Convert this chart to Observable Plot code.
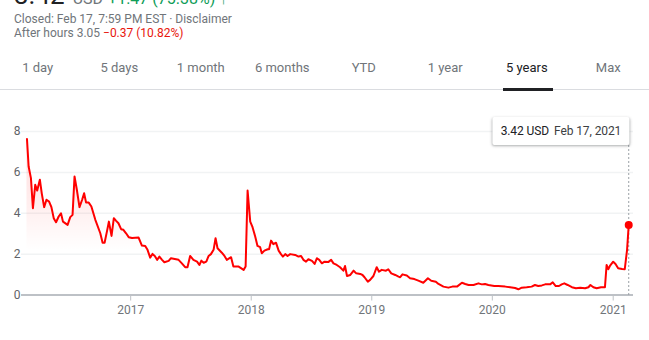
<!DOCTYPE html>
<html><head><meta charset="utf-8">
<script src="https://cdn.jsdelivr.net/npm/d3@7"></script>
<script src="https://cdn.jsdelivr.net/npm/@observablehq/plot@0.6"></script>
<style>
html,body{margin:0;padding:0;background:#fff;}
body{width:649px;height:340px;overflow:hidden;position:relative;font-family:Roboto,"Noto Sans",sans-serif;}
#header{position:relative;height:96px;}
.abs{position:absolute;white-space:nowrap;}
#price{left:14px;top:-20px;line-height:30px;font-size:26px;color:#202124;}
#price .cur{font-size:16px;color:#70757a;margin-left:8px;}
#price .chg{font-size:16px;color:#0f9d58;margin-left:5px;}
#closed{left:14px;top:11px;line-height:16px;font-size:12px;color:#70757a;}
#after{left:14px;top:25px;line-height:16px;font-size:12px;color:#70757a;}
#after .neg{color:#e8160c;}
.tab{position:absolute;top:57.5px;width:81.5px;line-height:20px;text-align:center;font-size:13px;color:#70757a;}
.tab.sel{color:#202124;}
#rule{position:absolute;left:0;top:89px;width:649px;height:1px;background:#dadce0;}
#underline{position:absolute;top:88px;height:3px;width:50px;background:#202124;}
#tip{position:absolute;top:117px;height:28px;line-height:28px;padding:0 8px 0 8px;background:#fff;
  box-shadow:0 1px 3px rgba(60,64,67,.3),0 1px 2px rgba(60,64,67,.15);border-radius:2px;font-size:12px;color:#202124;
  transform:translateX(-100%);white-space:nowrap;letter-spacing:-0.1px;}
#tip .d{color:#3c4043;margin-left:5px;}
</style></head>
<body>
<div id="header">
  <div id="price" class="abs">3.42<span class="cur">USD</span><span class="chg">+1.47 (75.38%) ↑</span></div>
  <div id="closed" class="abs">Closed: Feb 17, 7:59 PM EST · Disclaimer</div>
  <div id="after" class="abs">After hours 3.05 <span class="neg">−0.37 (10.82%)</span></div>
  <div id="rule"></div>
</div>
<div id="chart"></div>
<script>
const dates = [
"2016-02-22","2016-02-27","2016-03-05","2016-03-11","2016-03-18","2016-03-24","2016-04-01","2016-04-07","2016-04-14","2016-04-21",
"2016-04-29","2016-05-06","2016-05-13","2016-05-20","2016-05-28","2016-06-04","2016-06-10","2016-06-24","2016-07-02","2016-07-09",
"2016-07-15","2016-07-22","2016-07-30","2016-08-07","2016-08-13","2016-08-19","2016-08-27","2016-09-04","2016-09-16","2016-10-01",
"2016-10-08","2016-10-14","2016-10-21","2016-10-27","2016-11-04","2016-11-11","2016-11-18","2016-11-25","2016-12-03","2016-12-10",
"2016-12-18","2016-12-26",
"2017-01-05","2017-01-25","2017-01-30","2017-02-04","2017-02-14","2017-02-21","2017-03-01","2017-03-08","2017-03-15","2017-03-22",
"2017-03-29","2017-04-06","2017-04-13","2017-04-26","2017-05-03","2017-05-26","2017-06-05","2017-06-15","2017-06-22","2017-06-30",
"2017-07-10","2017-07-21","2017-07-28","2017-08-03","2017-08-10","2017-08-18","2017-08-25","2017-09-01","2017-09-09","2017-09-15",
"2017-09-21","2017-10-04","2017-10-12","2017-10-19","2017-11-01","2017-11-08","2017-11-24","2017-12-09","2017-12-15","2017-12-21",
"2017-12-29",
"2018-01-05","2018-01-13","2018-01-20","2018-01-28","2018-02-02","2018-02-10","2018-02-20","2018-02-24","2018-03-02","2018-03-09",
"2018-03-17","2018-03-25","2018-04-01","2018-04-07","2018-04-14","2018-04-21","2018-04-29","2018-05-14","2018-05-24","2018-06-01",
"2018-06-08","2018-06-16","2018-06-23","2018-07-04","2018-07-12","2018-07-19","2018-07-26","2018-08-03","2018-08-11","2018-08-23",
"2018-08-31","2018-09-07","2018-09-17","2018-09-27","2018-10-07","2018-10-12","2018-10-18","2018-10-28","2018-11-07","2018-11-15",
"2018-11-27","2018-12-04","2018-12-10","2018-12-20","2018-12-27",
"2019-01-06","2019-01-16","2019-01-23","2019-01-31","2019-02-13","2019-02-20","2019-03-01","2019-03-13","2019-03-23","2019-03-28",
"2019-04-04","2019-04-17","2019-04-27","2019-05-10","2019-05-22","2019-06-06","2019-06-20","2019-06-30","2019-07-14","2019-07-22",
"2019-08-06","2019-08-21","2019-09-02","2019-09-16","2019-10-01","2019-10-11","2019-10-21","2019-11-05","2019-11-20","2019-11-30",
"2019-12-10","2019-12-20",
"2020-01-07","2020-01-19","2020-02-09","2020-02-24","2020-03-10","2020-03-20","2020-03-30","2020-04-14","2020-04-29","2020-05-09",
"2020-05-19","2020-05-30","2020-06-09","2020-06-24","2020-07-02","2020-07-11","2020-07-21","2020-07-29","2020-08-06","2020-08-16",
"2020-08-29","2020-09-10","2020-09-23","2020-10-08","2020-10-18","2020-10-24","2020-11-02","2020-11-12","2020-11-25","2020-12-07",
"2020-12-12","2020-12-17","2020-12-22",
"2021-01-01","2021-01-08","2021-01-16","2021-01-28","2021-02-05","2021-02-12","2021-02-17"
];
const closes = [
7.63,6.29,5.72,4.25,5.39,5.11,5.64,4.95,4.30,4.66,
4.57,4.30,3.76,3.56,3.84,4.00,3.59,3.43,3.81,3.92,
5.80,5.15,4.30,4.66,4.98,4.52,4.52,4.33,3.68,3.02,
2.56,2.56,3.10,3.59,2.89,3.76,3.63,3.51,3.22,3.19,
3.02,2.83,
2.79,2.81,2.61,2.42,2.40,2.21,1.83,2.01,1.91,1.72,
1.88,1.72,1.60,1.67,1.80,1.72,1.55,1.36,1.36,1.91,
1.72,1.63,1.47,1.68,1.58,1.63,1.91,2.00,2.21,2.78,
2.29,2.07,1.91,1.72,1.85,1.39,1.39,1.23,1.39,5.11,
3.59,
3.32,2.86,2.40,2.34,2.04,2.17,2.24,2.24,2.66,2.49,
2.56,2.17,2.00,1.88,2.00,1.91,2.00,1.96,1.88,1.91,
1.72,1.63,1.75,1.67,1.52,1.80,1.72,1.55,1.63,1.62,
1.72,1.55,1.47,1.36,1.19,1.42,0.93,0.98,1.19,1.06,
1.03,0.98,0.87,0.65,0.74,
0.93,1.36,1.14,1.23,1.19,1.26,1.06,0.98,0.90,0.87,
1.01,0.95,0.82,0.78,0.70,0.60,0.82,0.70,0.65,0.54,
0.41,0.36,0.41,0.41,0.60,0.54,0.49,0.49,0.57,0.52,
0.54,0.49,
0.44,0.44,0.41,0.38,0.34,0.28,0.36,0.38,0.41,0.49,
0.44,0.47,0.52,0.52,0.62,0.44,0.44,0.52,0.57,0.49,
0.38,0.33,0.36,0.33,0.38,0.49,0.38,0.33,0.38,0.38,
1.47,1.26,1.42,
1.63,1.52,1.31,1.27,1.26,2.21,3.42
];
const yearTicks = ["2017-01-01","2018-01-01","2019-01-01","2020-01-01","2021-01-01"];
const yTicks = [0, 2, 4, 6, 8];
const gridValues = [2, 4, 6, 8];
const tabLabels = ["1 day","5 days","1 month","6 months","YTD","1 year","5 years","Max"];
const selectedTab = "5 years";

const toDate = s => new Date(s + "T00:00:00Z");
const data = dates.map((d, i) => ({date: toDate(d), close: closes[i]}));
const last = data[data.length - 1];

// tabs
const header = document.getElementById("header");
tabLabels.forEach((t, i) => {
  const el = document.createElement("div");
  el.className = "tab" + (t === selectedTab ? " sel" : "");
  el.style.left = (-3 + i * 81.5) + "px";
  el.textContent = t;
  header.appendChild(el);
  if (t === selectedTab) {
    const u = document.createElement("div");
    u.id = "underline";
    u.style.left = (-3 + i * 81.5 + 81.5 / 2 - 24) + "px";
    header.appendChild(u);
  }
});

const chart = Plot.plot({
  width: 649, height: 244,
  marginLeft: 21, marginRight: 16, marginTop: 49, marginBottom: 45,
  style: {fontFamily: "Roboto, sans-serif", fontSize: "12px", color: "#70757a", background: "transparent", overflow: "visible"},
  x: {type: "utc", domain: [toDate("2016-01-01"), toDate("2021-01-01")], range: [9.3, 612.7]},
  y: {domain: [0, 8], range: [198.5, 35]},
  marks: [
    Plot.ruleY(gridValues, {stroke: "#f1f3f4", strokeWidth: 1.5}),
    Plot.areaY(data, {x: "date", y: "close", fill: "url(#redFade)"}),
    Plot.ruleY([0], {stroke: "#bdc1c6", strokeWidth: 2}),
    Plot.axisX(yearTicks.map(toDate), {tickSize: 5.5, tickPadding: 4, tickFormat: d3.utcFormat("%Y"), stroke: "#bdc1c6", fill: "#70757a", label: null}),
    Plot.axisY(yTicks, {tickSize: 0, tickPadding: 1, fill: "#5f6368", label: null}),
    Plot.ruleX([last], {x: "date", stroke: "#9aa0a6", strokeDasharray: "2,2"}),
    Plot.lineY(data, {x: "date", y: "close", stroke: "#ff0000", strokeWidth: 2, strokeLinejoin: "round"}),
    Plot.dot([last], {x: "date", y: "close", r: 4, fill: "#ff0000"})
  ]
});

const defs = d3.select(chart).insert("defs", ":first-child");
const grad = defs.append("linearGradient").attr("id", "redFade")
  .attr("x1", 0).attr("y1", 0).attr("x2", 0).attr("y2", 1);
[[0, 0.14], [0.45, 0.06], [0.72, 0]].forEach(([o, a]) =>
  grad.append("stop").attr("offset", o).attr("stop-color", "#ff0000").attr("stop-opacity", a));

document.getElementById("chart").appendChild(chart);

const xs = chart.scale("x").apply(last.date);
const tip = document.createElement("div");
tip.id = "tip";
tip.innerHTML = `${last.close.toFixed(2)} USD<span class="d">${d3.utcFormat("%b %-d, %Y")(last.date)}</span>`;
tip.style.left = (xs + 1) + "px";
document.body.appendChild(tip);
</script>
</body></html>
